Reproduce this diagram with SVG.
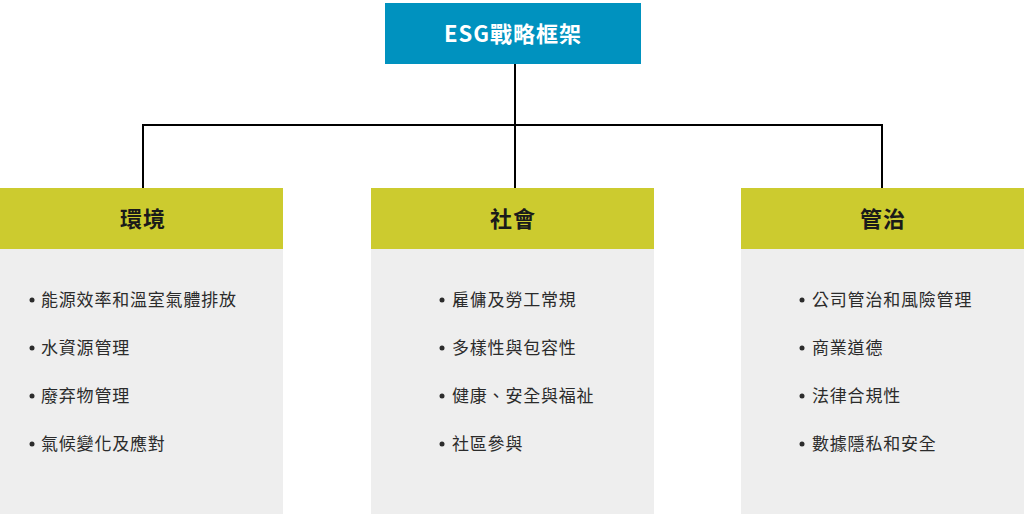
<svg xmlns="http://www.w3.org/2000/svg" width="1024" height="514" viewBox="0 0 1024 514">
<style>
.title{font-family:"Noto Sans CJK TC","Noto Sans",sans-serif;font-size:22px;font-weight:bold;fill:#ffffff;text-anchor:middle;letter-spacing:1px}
.head{font-family:"Noto Sans CJK TC","Noto Sans",sans-serif;font-size:22px;font-weight:bold;fill:#1a1a1a;text-anchor:middle;letter-spacing:1px}
.item{font-family:"Noto Sans CJK TC","Noto Sans",sans-serif;font-size:17px;fill:#2b2b2b;letter-spacing:0.8px}
.hdr{fill:#cccb2f}
.body{fill:#eeeeee}
.bul{fill:#2b2b2b}
.conn{stroke:#000000;stroke-width:2;fill:none}
</style>
<rect width="1024" height="514" fill="#ffffff"/>
<g id="connectors">
<path class="conn" d="M515 64 V188"/>
<path class="conn" d="M143 125 H882"/>
<path class="conn" d="M143 124 V188"/>
<path class="conn" d="M882 124 V188"/>
</g>
<g id="root">
<rect x="385" y="3" width="256" height="61" fill="#0092bf"/>
<text class="title" x="513" y="42">ESG戰略框架</text>
</g>
<g id="environment">
<rect class="body" x="0" y="249" width="283" height="265"/>
<rect class="hdr" x="0" y="188" width="283" height="61"/>
<text class="head" x="143" y="227">環境</text>
<circle class="bul" cx="32" cy="300" r="2.5"/>
<text class="item" x="41" y="306">能源效率和溫室氣體排放</text>
<circle class="bul" cx="32" cy="348" r="2.5"/>
<text class="item" x="41" y="354">水資源管理</text>
<circle class="bul" cx="32" cy="396" r="2.5"/>
<text class="item" x="41" y="402">廢弃物管理</text>
<circle class="bul" cx="32" cy="444" r="2.5"/>
<text class="item" x="41" y="450">氣候變化及應對</text>
</g>
<g id="social">
<rect class="body" x="371" y="249" width="283" height="265"/>
<rect class="hdr" x="371" y="188" width="283" height="61"/>
<text class="head" x="513" y="227">社會</text>
<circle class="bul" cx="442" cy="300" r="2.5"/>
<text class="item" x="452" y="306">雇傭及勞工常規</text>
<circle class="bul" cx="442" cy="348" r="2.5"/>
<text class="item" x="452" y="354">多樣性與包容性</text>
<circle class="bul" cx="442" cy="396" r="2.5"/>
<text class="item" x="452" y="402">健康、安全與福祉</text>
<circle class="bul" cx="442" cy="444" r="2.5"/>
<text class="item" x="452" y="450">社區參與</text>
</g>
<g id="governance">
<rect class="body" x="741" y="249" width="283" height="265"/>
<rect class="hdr" x="741" y="188" width="283" height="61"/>
<text class="head" x="883" y="227">管治</text>
<circle class="bul" cx="802" cy="300" r="2.5"/>
<text class="item" x="812" y="306">公司管治和風險管理</text>
<circle class="bul" cx="802" cy="348" r="2.5"/>
<text class="item" x="812" y="354">商業道德</text>
<circle class="bul" cx="802" cy="396" r="2.5"/>
<text class="item" x="812" y="402">法律合規性</text>
<circle class="bul" cx="802" cy="444" r="2.5"/>
<text class="item" x="812" y="450">數據隱私和安全</text>
</g>
</svg>
